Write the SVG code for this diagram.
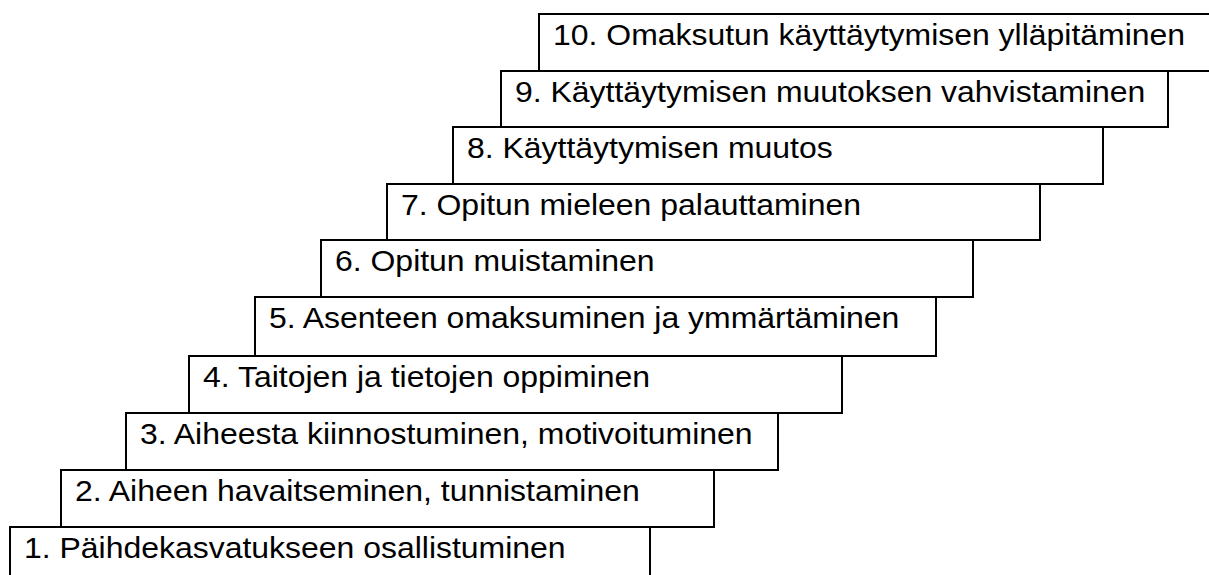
<svg xmlns="http://www.w3.org/2000/svg" width="1209" height="575" viewBox="0 0 1209 575">
<style>
.box rect{fill:#fff;stroke:#000;stroke-width:2}
.box text{font-family:"Liberation Sans",Arial,sans-serif;font-size:30px;fill:#000}
</style>
<rect width="1209" height="575" fill="#fff"/>
<g id="connectors"></g>
<g id="step10" class="box"><rect x="539" y="14" width="690" height="57"/><text transform="translate(553,44.5) scale(1.065,1)">10. Omaksutun käyttäytymisen ylläpitäminen</text></g>
<g id="step9" class="box"><rect x="501" y="71" width="667" height="56"/><text transform="translate(515,101.5) scale(1.065,1)">9. Käyttäytymisen muutoksen vahvistaminen</text></g>
<g id="step8" class="box"><rect x="453" y="127" width="650" height="57"/><text transform="translate(467,157.5) scale(1.065,1)">8. Käyttäytymisen muutos</text></g>
<g id="step7" class="box"><rect x="387" y="184" width="653" height="56"/><text transform="translate(401,214.5) scale(1.065,1)">7. Opitun mieleen palauttaminen</text></g>
<g id="step6" class="box"><rect x="321" y="240" width="652" height="57"/><text transform="translate(335,270.5) scale(1.065,1)">6. Opitun muistaminen</text></g>
<g id="step5" class="box"><rect x="255" y="297" width="681" height="59"/><text transform="translate(269,327.5) scale(1.065,1)">5. Asenteen omaksuminen ja ymmärtäminen</text></g>
<g id="step4" class="box"><rect x="189" y="356" width="653" height="57"/><text transform="translate(203,386.5) scale(1.065,1)">4. Taitojen ja tietojen oppiminen</text></g>
<g id="step3" class="box"><rect x="126" y="413" width="652" height="57"/><text transform="translate(140,443.5) scale(1.065,1)">3. Aiheesta kiinnostuminen, motivoituminen</text></g>
<g id="step2" class="box"><rect x="61" y="470" width="653" height="57"/><text transform="translate(75,500.5) scale(1.065,1)">2. Aiheen havaitseminen, tunnistaminen</text></g>
<g id="step1" class="box"><rect x="10" y="527" width="640" height="70"/><text transform="translate(24,557.5) scale(1.065,1)">1. Päihdekasvatukseen osallistuminen</text></g>
</svg>
